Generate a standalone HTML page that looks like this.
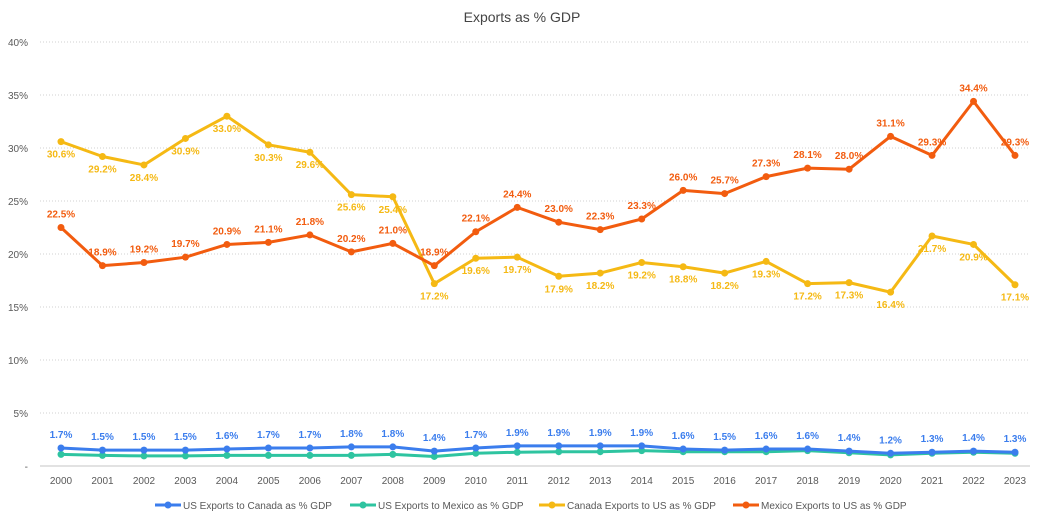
<!DOCTYPE html>
<html><head><meta charset="utf-8"><style>
body{margin:0;background:#fff;font-family:"Liberation Sans",sans-serif}
svg text{font-family:"Liberation Sans",sans-serif}
</style></head><body>
<svg id="chart" width="1044" height="518" xmlns="http://www.w3.org/2000/svg">
<rect width="1044" height="518" fill="#fff"/>
<text x="522" y="22" text-anchor="middle" font-size="14" fill="#444">Exports as % GDP</text>
<g id="grid"></g><g id="series"></g><g id="legend"></g>
</svg>
<script>
const years=[2000,2001,2002,2003,2004,2005,2006,2007,2008,2009,2010,2011,2012,2013,2014,2015,2016,2017,2018,2019,2020,2021,2022,2023];
const usCanada=[1.7,1.5,1.5,1.5,1.6,1.7,1.7,1.8,1.8,1.4,1.7,1.9,1.9,1.9,1.9,1.6,1.5,1.6,1.6,1.4,1.2,1.3,1.4,1.3];
const usMexico=[1.1,1.0,0.95,0.95,1.0,1.0,1.0,1.0,1.1,0.9,1.2,1.3,1.35,1.35,1.45,1.35,1.35,1.35,1.45,1.25,1.05,1.2,1.3,1.2];
const canadaUS=[30.6,29.2,28.4,30.9,33.0,30.3,29.6,25.6,25.4,17.2,19.6,19.7,17.9,18.2,19.2,18.8,18.2,19.3,17.2,17.3,16.4,21.7,20.9,17.1];
const mexicoUS=[22.5,18.9,19.2,19.7,20.9,21.1,21.8,20.2,21.0,18.9,22.1,24.4,23.0,22.3,23.3,26.0,25.7,27.3,28.1,28.0,31.1,29.3,34.4,29.3];
const yTicks=[0,5,10,15,20,25,30,35,40];
const NS="http://www.w3.org/2000/svg";
const x=i=>61+i*(954/23);
const y=v=>466-v*10.6;
function mk(tag,attrs,parent,text){const e=document.createElementNS(NS,tag);for(const k in attrs)e.setAttribute(k,attrs[k]);if(text!==undefined)e.textContent=text;parent.appendChild(e);return e;}
const grid=document.getElementById('grid');
yTicks.forEach(t=>{
  if(t>0){const l=mk('line',{x1:40,x2:1030,y1:y(t),y2:y(t),stroke:'#d0d0d0','stroke-dasharray':'1,2'},grid);
  
  }
  const tx=mk('text',{x:28,y:y(t)+4,'text-anchor':'end','font-size':10,fill:'#595959'},grid,t===0?'-':t+'%');
  
  
});
const ax=mk('line',{x1:40,x2:1030,y1:466,y2:466,stroke:'#d9d9d9','stroke-width':1.5},grid);


years.forEach((yr,i)=>{const t=mk('text',{x:x(i),y:484,'text-anchor':'middle','font-size':10,fill:'#595959'},grid,yr);

});
const S=document.getElementById('series');
function series(vals,color,name,labelPos,labelFmt){
  const g=mk('g',{},S);
  
  
  const pts=vals.map((v,i)=>x(i)+','+y(v)).join(' ');
  const pl=mk('polyline',{points:pts,fill:'none',stroke:color,'stroke-width':3,'stroke-linejoin':'round'},g);
  
  
  vals.forEach((v,i)=>{
    const c=mk('circle',{cx:x(i),cy:y(v),r:3.5,fill:color},g);
    
    
    if(labelPos){
      const ly=labelPos==='above'?y(v)-10:y(v)+16;
      const t=mk('text',{x:x(i),y:ly,'text-anchor':'middle','font-size':10,'font-weight':'bold',fill:color},g,(labelFmt?labelFmt(v):v.toFixed(1))+'%');
      
      
    }
  });
}
series(usMexico,'#2ec4a0','us-mexico-series',null);
series(usCanada,'#3b7ded','us-canada-series','above');
series(canadaUS,'#f5b914','canada-us-series','below');
series(mexicoUS,'#f25c0f','mexico-us-series','above');
const L=document.getElementById('legend');
const items=[['US Exports to Canada as % GDP','#3b7ded',155],['US Exports to Mexico as % GDP','#2ec4a0',350],['Canada Exports to US as % GDP','#f5b914',539],['Mexico Exports to US as % GDP','#f25c0f',733]];
items.forEach(([label,color,lx])=>{
  const g=mk('g',{},L);
  
  
  mk('line',{x1:lx,x2:lx+26,y1:505,y2:505,stroke:color,'stroke-width':3},g);
  mk('circle',{cx:lx+13,cy:505,r:3.5,fill:color},g);
  mk('text',{x:lx+28,y:509,'font-size':10,fill:'#595959'},g,label);
});
</script>
</body></html>
